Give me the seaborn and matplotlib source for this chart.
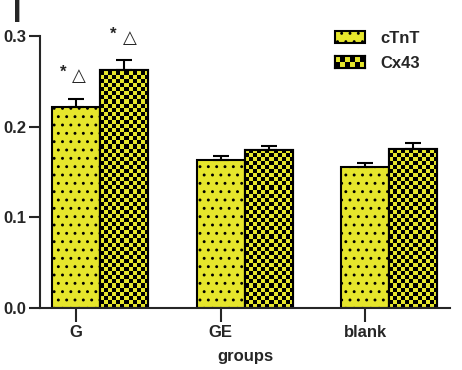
import numpy as np
import pandas as pd
import matplotlib
matplotlib.use('Agg')
import matplotlib.pyplot as plt
from matplotlib.colors import ListedColormap
from matplotlib.patches import Patch, Rectangle
import seaborn as sns

sns.set_style('white')
plt.rcParams['font.family'] = ['Liberation Sans', 'DejaVu Sans']
plt.rcParams['font.weight'] = 'bold'
plt.rcParams['hatch.linewidth'] = 0.9

# data
groups = ['G', 'GE', 'blank']
markers = ['cTnT', 'Cx43']
ctnt = [0.222, 0.163, 0.155]
ctnt_err = [0.009, 0.005, 0.005]
cx43 = [0.263, 0.174, 0.175]
cx43_err = [0.010, 0.005, 0.007]
yticks = [0.0, 0.1, 0.2, 0.3]

yellow = '#E6E62C'

df = pd.DataFrame({
    'group': groups * 2,
    'marker': ['cTnT'] * 3 + ['Cx43'] * 3,
    'value': ctnt + cx43,
})
errs = ctnt_err + cx43_err

fig = plt.figure(figsize=(4.62, 3.70), dpi=100)
ax = fig.add_axes([40 / 462, 1 - 308 / 370, 410 / 462, 272 / 370])

sns.barplot(data=df, x='group', y='value', hue='marker', order=groups,
            hue_order=markers, palette=[yellow, yellow], width=0.665, saturation=1,
            errorbar=None, edgecolor='black', linewidth=1.5, legend=False, ax=ax)

ax.set_xlim(-0.415, 2.42)
ax.set_ylim(0, 0.3)

bars = ax.patches[:6]
cmap = ListedColormap([yellow, 'black'])
cell_y = 0.0045
for i, b in enumerate(bars):
    x0, w, h = b.get_x(), b.get_width(), b.get_height()
    if i < 3:
        b.set_hatch('..')
    else:
        ny = int(np.ceil(h / cell_y))
        board = np.indices((ny, 12)).sum(axis=0) % 2
        im = ax.imshow(board, cmap=cmap, extent=(x0, x0 + w, 0, ny * cell_y),
                       origin='lower', aspect='auto', interpolation='nearest',
                       zorder=b.get_zorder() + 0.1)
        im.set_clip_path(b)
        ax.add_patch(Rectangle((x0, 0), w, h, fill=False, edgecolor='black',
                               linewidth=1.5, zorder=b.get_zorder() + 0.2))

ax.set_xlim(-0.415, 2.42)
ax.set_ylim(0, 0.3)

# error bars (upper only)
for b, e in zip(bars, errs):
    cx = b.get_x() + b.get_width() / 2
    ax.errorbar(cx, b.get_height(), yerr=[[0], [e]], fmt='none', ecolor='black',
                elinewidth=1.5, capsize=6, capthick=1.5, zorder=5, clip_on=False)

# significance marks over G
for b, e, dx_star, dx_tri in [(bars[0], errs[0], -0.09, 0.02), (bars[3], errs[3], -0.075, 0.04)]:
    cx = b.get_x() + b.get_width() / 2
    top = b.get_height() + e
    ax.text(cx + dx_star, top + 0.029, '*', ha='center', va='center', fontsize=12,
            fontweight='bold', clip_on=False)
    ax.text(cx + dx_tri, top + 0.025, '\u25b3', ha='center', va='center', fontsize=13,
            fontweight='normal', family=['DejaVu Sans'], clip_on=False)

# ticks at the first bar of each group
ax.set_xticks([b.get_x() + b.get_width() / 2 for b in bars[:3]])
ax.set_xticklabels(groups)
ax.set_yticks(yticks)
ax.set_yticklabels(['%.1f' % t for t in yticks])
ax.tick_params(axis='both', direction='out', length=8, width=1.5, labelsize=12,
               bottom=True, left=True, pad=2)
ax.tick_params(axis='x', length=10)
for lab in ax.get_xticklabels() + ax.get_yticklabels():
    lab.set_fontweight('bold')
ax.set_xlabel('groups', fontsize=12, fontweight='bold', labelpad=7)
ax.set_ylabel('')
sns.despine(ax=ax)
for s in ['left', 'bottom']:
    ax.spines[s].set_linewidth(1.5)

handles = [Patch(facecolor=yellow, edgecolor='black', linewidth=1.5, hatch='..'),
           Patch(facecolor=yellow, edgecolor='black', linewidth=1.5)]
leg = ax.legend(handles, markers, loc='upper left', frameon=False,
                bbox_to_anchor=(335 / 462, 1 - 31 / 370), bbox_transform=fig.transFigure,
                prop={'weight': 'bold', 'size': 12}, handlelength=1.8, handleheight=0.7,
                handletextpad=0.9, labelspacing=0.6, borderpad=0, borderaxespad=0)

# checker pattern on the Cx43 legend key
fig.canvas.draw()
bb = leg.legend_handles[1].get_window_extent().transformed(fig.transFigure.inverted())
kax = fig.add_axes([bb.x0, bb.y0, bb.width, bb.height])
kax.imshow(np.indices((2, 6)).sum(axis=0) % 2, cmap=cmap, aspect='auto',
           interpolation='nearest')
kax.set_xticks([])
kax.set_yticks([])
for s in kax.spines.values():
    s.set_linewidth(1.5)
    s.set_color('black')

fig.text(17 / 462, 1 - 14 / 370, 'I', fontsize=22, fontweight='bold', ha='center', va='center')

fig.savefig('out.png', dpi=100)
